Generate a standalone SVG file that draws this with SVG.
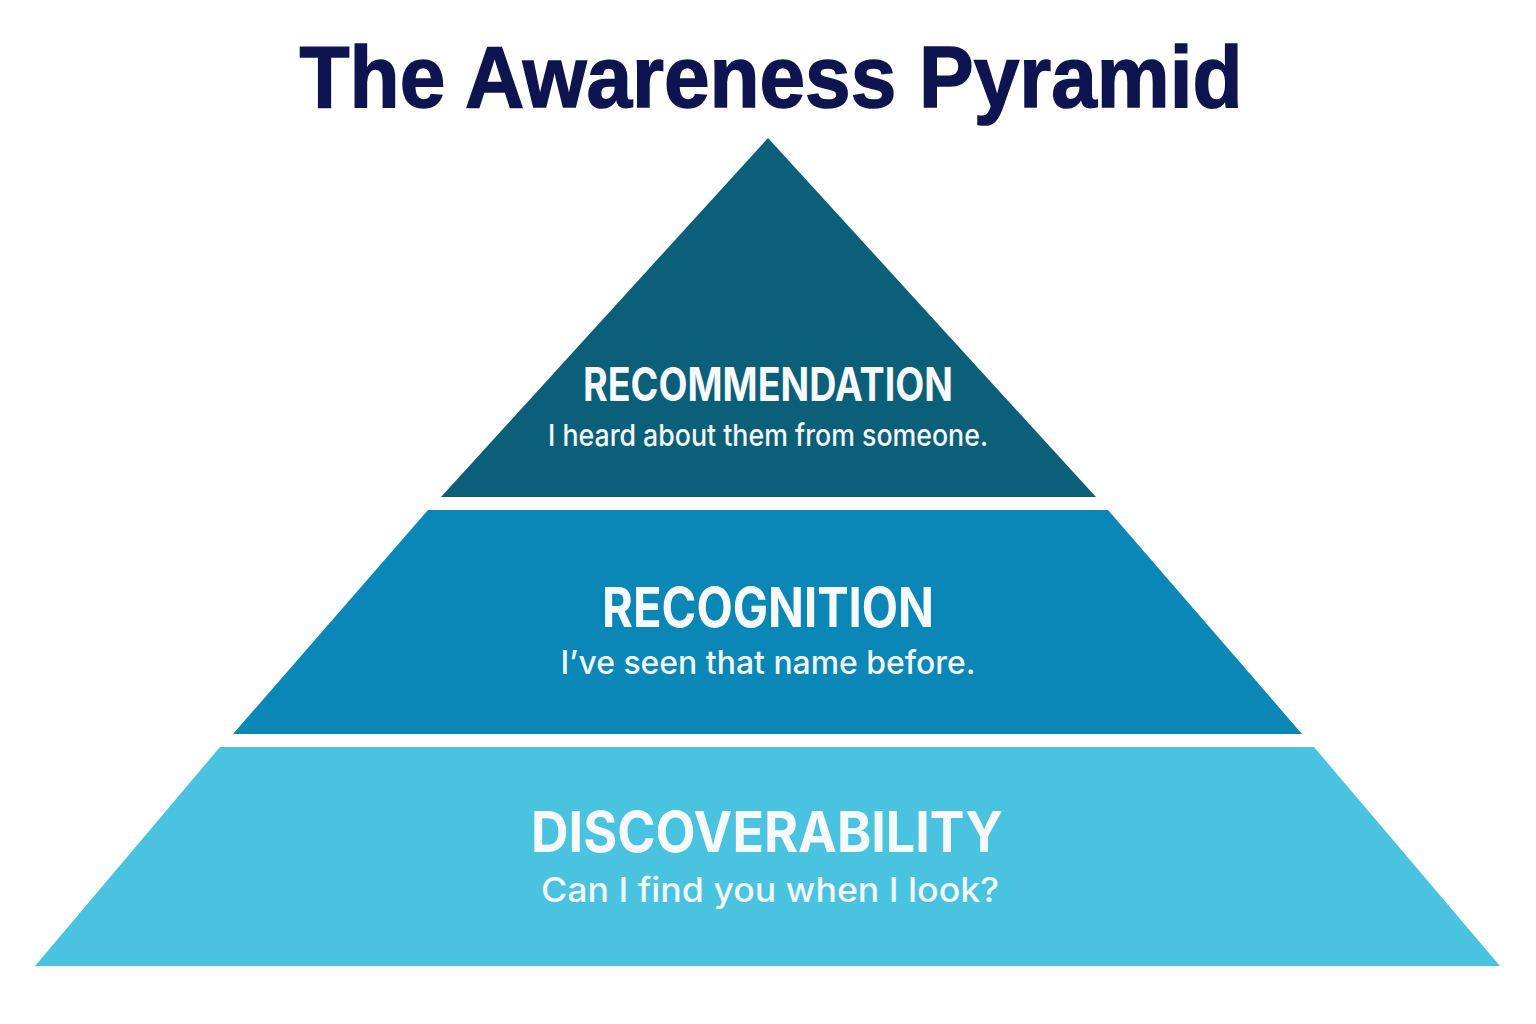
<svg xmlns="http://www.w3.org/2000/svg" width="1536" height="1024" viewBox="0 0 1536 1024">
  <style>
    .title { font-family: "Liberation Sans", Arial, sans-serif; font-weight: bold; font-size: 87px; fill: #0d1450; stroke: #0d1450; stroke-width: 1.5px; }
    .head { font-family: Inter, "Liberation Sans", sans-serif; font-weight: bold; fill: #f7fafc; text-anchor: middle; }
    .sub { font-family: Inter, "Liberation Sans", sans-serif; font-weight: 500; fill: #f2f7fa; text-anchor: middle; }
  </style>
  <rect width="1536" height="1024" fill="#ffffff"/>
  <text class="title" x="771" y="107" text-anchor="middle" textLength="943" lengthAdjust="spacingAndGlyphs">The Awareness Pyramid</text>
  <g id="tier-recommendation">
    <polygon points="768,138 1096,497 441,497" fill="#0c5f78"/>
    <text class="head" x="768" y="401" font-size="46" textLength="370" lengthAdjust="spacingAndGlyphs">RECOMMENDATION</text>
    <text class="sub" x="768" y="446" font-size="30" textLength="440" lengthAdjust="spacingAndGlyphs">I heard about them from someone.</text>
  </g>
  <g id="tier-recognition">
    <polygon points="428,510 1108,510 1302,734 233,734" fill="#0a87b6"/>
    <text class="head" x="768" y="627" font-size="55" textLength="332" lengthAdjust="spacingAndGlyphs">RECOGNITION</text>
    <text class="sub" x="768" y="674" font-size="32" textLength="415" lengthAdjust="spacingAndGlyphs">I’ve seen that name before.</text>
  </g>
  <g id="tier-discoverability">
    <polygon points="220,747 1314,747 1500,966 35,966" fill="#49c3e0"/>
    <text class="head" x="767" y="852" font-size="56" textLength="472" lengthAdjust="spacingAndGlyphs">DISCOVERABILITY</text>
    <text class="sub" x="770" y="902" font-size="34" textLength="458" lengthAdjust="spacingAndGlyphs">Can I find you when I look?</text>
  </g>
  <g id="connectors"/>
</svg>
